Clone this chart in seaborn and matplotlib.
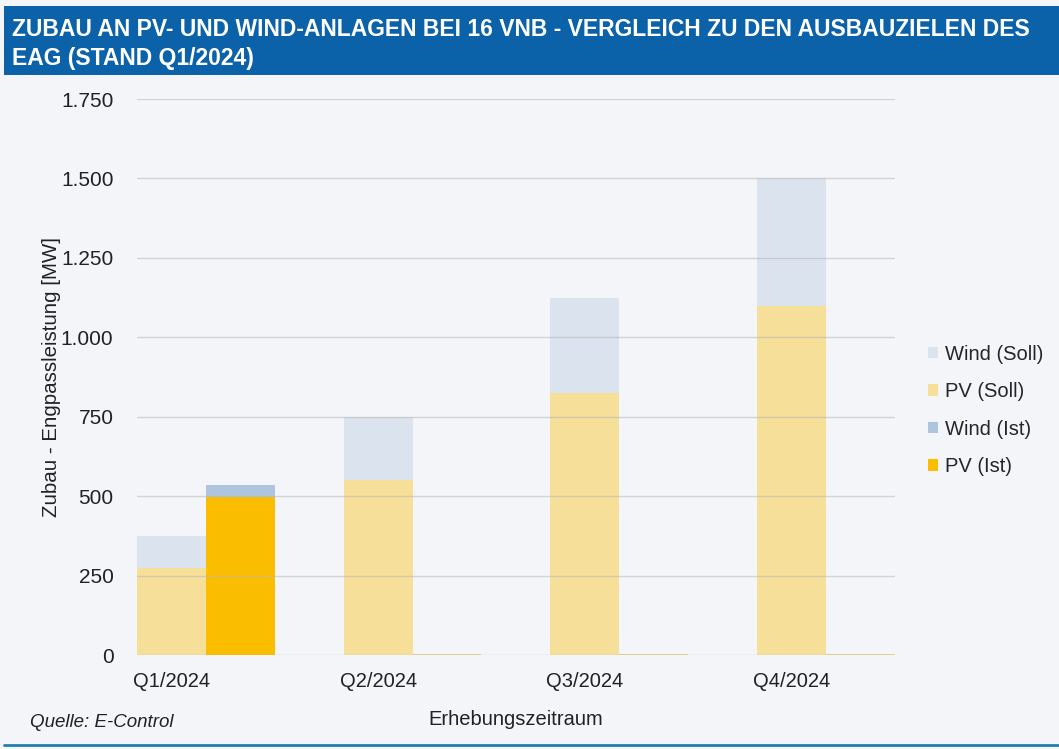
import pandas as pd
import matplotlib.pyplot as plt
import seaborn as sns
from matplotlib.patches import Patch, Rectangle
from matplotlib.lines import Line2D

# ---------------------------------------------------------------
# Data (MW)
# ---------------------------------------------------------------
quarters = ["Q1/2024", "Q2/2024", "Q3/2024", "Q4/2024"]
pv_soll = [275, 550, 825, 1100]
wind_soll = [100, 200, 300, 400]
pv_ist = [497, 0, 0, 0]
wind_ist = [38, 0, 0, 0]
y_ticks = [0, 250, 500, 750, 1000, 1250, 1500, 1750]

BG = "#f3f5f9"
BLUE = "#0b62a9"
colors = {
    "Wind (Soll)": "#dbe3ee",
    "PV (Soll)": "#f6df99",
    "Wind (Ist)": "#afc5df",
    "PV (Ist)": "#fbbd00",
}

# long tables: total height (pv + wind) and pv only, per Soll / Ist
total = pd.DataFrame({
    "Quartal": quarters * 2,
    "Typ": ["Soll"] * 4 + ["Ist"] * 4,
    "MW": [p + w for p, w in zip(pv_soll, wind_soll)] + [p + w for p, w in zip(pv_ist, wind_ist)],
})
pv = pd.DataFrame({
    "Quartal": quarters * 2,
    "Typ": ["Soll"] * 4 + ["Ist"] * 4,
    "MW": pv_soll + pv_ist,
})

sns.set_style("white")
plt.rcParams["font.family"] = ["Liberation Sans", "DejaVu Sans"]

fig = plt.figure(figsize=(10.59, 7.49), dpi=100, facecolor=BG)
ax = fig.add_axes([0.1294, 0.1255, 0.7156, 0.7423], facecolor=BG)

# wind on top = draw totals first, then pv over it
sns.barplot(data=total, x="Quartal", y="MW", hue="Typ", hue_order=["Soll", "Ist"],
            palette=[colors["Wind (Soll)"], colors["Wind (Ist)"]], saturation=1,
            width=2 / 3, gap=0, linewidth=0, legend=False, ax=ax)
sns.barplot(data=pv, x="Quartal", y="MW", hue="Typ", hue_order=["Soll", "Ist"],
            palette=[colors["PV (Soll)"], colors["PV (Ist)"]], saturation=1,
            width=2 / 3, gap=0, linewidth=0, legend=False, ax=ax)

# empty Ist bars still show as a hairline on the baseline
for bar in ax.patches:
    if bar.get_height() == 0:
        bar.set_edgecolor("#e6cf8a")
        bar.set_linewidth(1.2)

ax.set_xlim(-1 / 3, 3 + 1 / 3)
ax.set_ylim(0, 1750)
ax.set_yticks(y_ticks)
ax.set_yticklabels([f"{v:,}".replace(",", ".") for v in y_ticks])
# category labels sit under the Soll bar, like in the original
ax.set_xticks([i - 1 / 6 for i in range(len(quarters))])
ax.set_xticklabels(quarters)
ax.tick_params(axis="both", length=0, colors="#222222")
ax.tick_params(axis="y", pad=17, labelsize=15)
ax.tick_params(axis="x", pad=12, labelsize=14.5)

# grid drawn over the bars, faint
for v in y_ticks:
    ax.axhline(v, color="#b8b8b8", lw=1, alpha=0.55, zorder=5)

for s in ax.spines.values():
    s.set_visible(False)

ax.set_xlabel("Erhebungszeitraum", fontsize=14.5, color="#222222", labelpad=14)
ax.set_ylabel("Zubau - Engpassleistung [MW]", fontsize=14.8, color="#222222", labelpad=0)

# legend
handles = [Patch(facecolor=colors[k], edgecolor="none", label=k) for k in colors]
fig.legend(handles=handles, loc="center left", bbox_to_anchor=(0.859, 0.452),
           frameon=False, fontsize=14.5, handlelength=0.5, handleheight=0.5,
           handletextpad=0.35, labelspacing=0.92)

# title banner
fig.patches.append(Rectangle((0.004, 0.9), 0.996, 0.092, transform=fig.transFigure,
                             facecolor=BLUE, edgecolor="none", zorder=0))
fig.text(0.011, 0.961, "ZUBAU AN PV- UND WIND-ANLAGEN BEI 16 VNB - VERGLEICH ZU DEN AUSBAUZIELEN DES",
         fontsize=16.5, fontweight="bold", color="white", va="center", ha="left")
fig.text(0.011, 0.922, "EAG (STAND Q1/2024)",
         fontsize=16.5, fontweight="bold", color="white", va="center", ha="left")

# source + bottom line
fig.text(0.028, 0.035, "Quelle: E-Control", fontsize=13.5, style="italic",
         color="#222222", va="center", ha="left")
fig.add_artist(Line2D([0.004, 1.0], [0.006, 0.006], transform=fig.transFigure,
                      color="#1f80b0", lw=2))

fig.savefig("out.png", dpi=100, facecolor=BG)
